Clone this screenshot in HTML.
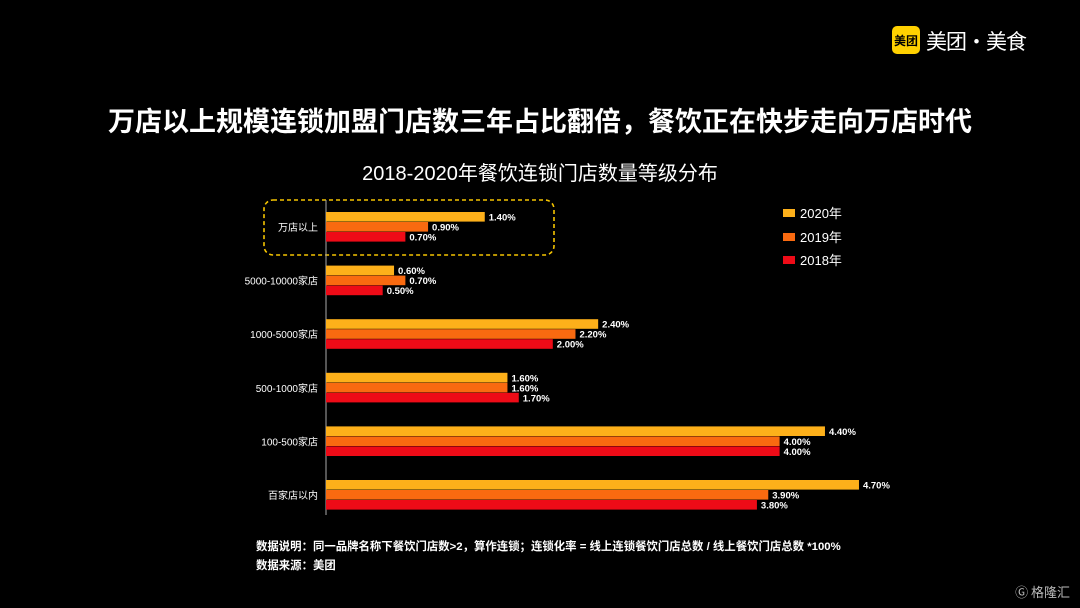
<!DOCTYPE html>
<html><head><meta charset="utf-8"><style>
body{margin:0;background:#000;width:1080px;height:608px;overflow:hidden;font-family:"Liberation Sans","Noto Sans CJK SC",sans-serif;color:#fff}
</style></head><body>
<svg width="1080" height="608" style="position:absolute;left:0;top:0">
<rect x="892" y="26" width="28" height="28" rx="5" fill="#FFD100"/>
<text x="906" y="45" font-size="12" font-weight="bold" fill="#000" text-anchor="middle" font-family="Noto Sans CJK SC,sans-serif">美团</text>
<text x="926" y="49" font-size="21" fill="#fff" font-family="Noto Sans CJK SC,sans-serif" letter-spacing="-1">美团·美食</text>
<text x="540" y="131" font-size="27" font-weight="bold" fill="#fff" text-anchor="middle" font-family="Noto Sans CJK SC,sans-serif">万店以上规模连锁加盟门店数三年占比翻倍，餐饮正在快步走向万店时代</text>
<text x="540" y="180" font-size="20" fill="#fff" text-anchor="middle" font-family="Liberation Sans,Noto Sans CJK SC,sans-serif">2018-2020年餐饮连锁门店数量等级分布</text>
<rect x="264" y="200" width="290" height="55" rx="9" fill="none" stroke="#F5C400" stroke-width="1.6" stroke-dasharray="4,3"/>
<line x1="326" y1="200" x2="326" y2="515" stroke="#aaa" stroke-width="1"/>
<g id="bars"></g>
<g>
<rect x="783" y="209" width="12" height="8" fill="#FDB01A"/><text x="800" y="218" font-size="13" fill="#fff">2020年</text>
<rect x="783" y="233" width="12" height="8" fill="#F96A10"/><text x="800" y="242" font-size="13" fill="#fff">2019年</text>
<rect x="783" y="256" width="12" height="8" fill="#EE0B17"/><text x="800" y="265" font-size="13" fill="#fff">2018年</text>
</g>
<text x="256" y="550" font-size="11.4" font-weight="bold" fill="#fff" font-family="Liberation Sans,Noto Sans CJK SC,sans-serif">数据说明：同一品牌名称下餐饮门店数&gt;2，算作连锁；连锁化率 = 线上连锁餐饮门店总数 / 线上餐饮门店总数 *100%</text>
<text x="256" y="569" font-size="11.4" font-weight="bold" fill="#fff" font-family="Liberation Sans,Noto Sans CJK SC,sans-serif">数据来源：美团</text>
<text x="1070" y="597" font-size="13" fill="#bbb" text-anchor="end" font-family="Noto Sans CJK SC,sans-serif">Ⓖ 格隆汇</text>
</svg>
<script>
const categories=["万店以上","5000-10000家店","1000-5000家店","500-1000家店","100-500家店","百家店以内"];
const s2020=[1.4,0.6,2.4,1.6,4.4,4.7];
const s2019=[0.9,0.7,2.2,1.6,4.0,3.9];
const s2018=[0.7,0.5,2.0,1.7,4.0,3.8];
const labels2020=["1.40%","0.60%","2.40%","1.60%","4.40%","4.70%"];
const labels2019=["0.90%","0.70%","2.20%","1.60%","4.00%","3.90%"];
const labels2018=["0.70%","0.50%","2.00%","1.70%","4.00%","3.80%"];
const NS="http://www.w3.org/2000/svg";
const g=document.getElementById('bars');
const x=v=>326+v*113.4;
const yc=i=>227+i*53.6;
const series=[[s2020,labels2020,"#FDB01A","2020"],[s2019,labels2019,"#F96A10","2019"],[s2018,labels2018,"#EE0B17","2018"]];
categories.forEach((c,i)=>{
  const t=document.createElementNS(NS,'text');
  t.setAttribute('x',318);t.setAttribute('y',yc(i)+4);t.setAttribute('font-size','10');t.setAttribute('fill','#fff');t.setAttribute('text-anchor','end');
  t.textContent=c;
  
  
  g.appendChild(t);
  series.forEach((s,k)=>{
    const y0=yc(i)-15+k*10;
    const r=document.createElementNS(NS,'rect');
    r.setAttribute('x',326);r.setAttribute('y',y0);r.setAttribute('width',x(s[0][i])-326);r.setAttribute('height',9.6);r.setAttribute('fill',s[2]);
    
    
    g.appendChild(r);
    const l=document.createElementNS(NS,'text');
    l.setAttribute('x',x(s[0][i])+4);l.setAttribute('y',y0+8.5);l.setAttribute('font-size','9.5');l.setAttribute('font-weight','bold');l.setAttribute('fill','#fff');
    l.textContent=s[1][i];
    
    
    g.appendChild(l);
  });
});
</script>
</body></html>
